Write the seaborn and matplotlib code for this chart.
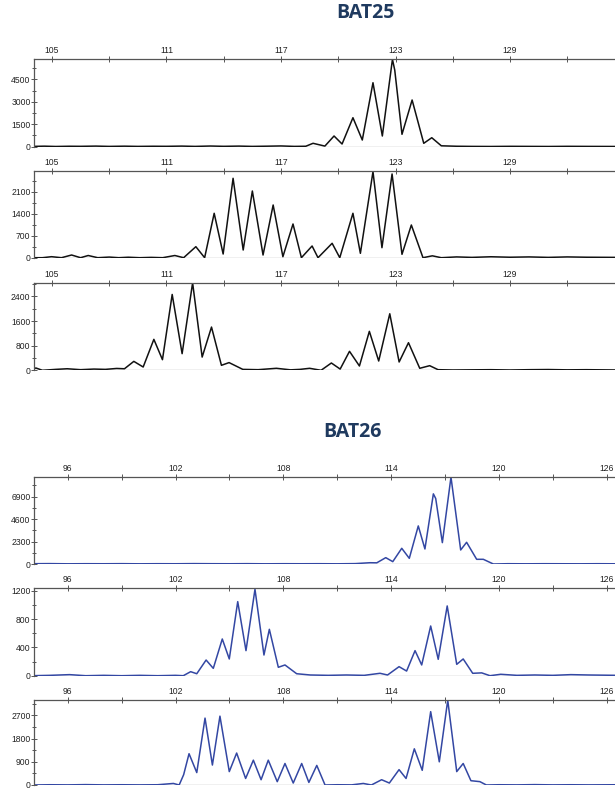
import matplotlib
matplotlib.use("Agg")
import matplotlib.pyplot as plt
import seaborn as sns
import pandas as pd
from matplotlib.ticker import MultipleLocator

sns.set_style("white")
plt.rcParams['font.family'] = ['Liberation Sans', 'DejaVu Sans']

# ---------------- data ----------------
# BAT25 (black traces), size in bp vs RFU
bat25_1_x = [104.0, 104.6, 105.2, 105.9, 106.5, 107.3, 108.0, 108.8, 109.5, 110.3, 111.0, 111.8,
             112.5, 113.3, 114.0, 114.8, 115.5, 116.3, 117.0, 117.7, 118.3, 118.68, 119.3, 119.78,
             120.2, 120.77, 121.26, 121.82, 122.31, 122.84, 122.96, 123.34, 123.87, 124.48, 124.9,
             125.4, 126.2, 127.0, 128.0, 129.0, 130.0, 131.0, 132.0, 133.0, 134.6]
bat25_1_y = [20, 35, 15, 30, 25, 40, 20, 35, 20, 30, 25, 40, 20, 45, 25, 40, 20, 35, 50, 20, 30, 227,
             40, 715, 180, 1937, 447, 4275, 715, 5838, 5120, 828, 3120, 227, 600, 60, 30, 20, 15, 25,
             20, 15, 25, 20, 15]

bat25_2_x = [104.0, 104.5, 104.98, 105.5, 106.03, 106.5, 106.9, 107.4, 108.0, 108.5, 109.0, 109.6,
             110.2, 110.8, 111.44, 111.9, 112.54, 113.0, 113.5, 113.97, 114.49, 115.02, 115.5, 116.06,
             116.59, 117.1, 117.63, 118.07, 118.63, 118.94, 119.68, 120.08, 120.77, 121.16, 121.82,
             122.29, 122.82, 123.34, 123.83, 124.44, 124.93, 125.4, 126.2, 127.0, 128.0, 129.0, 130.0,
             131.0, 132.0, 133.0, 134.6]
bat25_2_y = [0, 0, 32, 0, 86, 0, 70, 0, 20, 0, 15, 0, 10, 0, 70, 0, 352, 0, 1419, 118, 2537, 246,
             2131, 86, 1684, 32, 1077, 0, 374, 0, 460, 0, 1419, 140, 2750, 320, 2675, 108, 1045, 0,
             60, 0, 25, 10, 30, 15, 25, 10, 25, 15, 10]

bat25_3_x = [104.0, 104.16, 104.5, 105.2, 105.8, 106.5, 107.2, 107.8, 108.39, 108.8, 109.29, 109.78,
             110.34, 110.79, 111.3, 111.82, 112.37, 112.87, 113.36, 113.88, 114.28, 115.0, 115.8,
             116.76, 117.5, 118.0, 118.5, 119.1, 119.64, 120.1, 120.59, 121.11, 121.63, 122.12,
             122.7, 123.19, 123.68, 124.27, 124.79, 125.23, 126.0, 127.0, 128.0, 129.0, 130.0,
             131.0, 132.0, 133.0, 134.6]
bat25_3_y = [40, 75, 0, 30, 50, 20, 40, 30, 60, 50, 290, 107, 1005, 345, 2463, 540, 2841, 430, 1404,
             162, 250, 30, 20, 65, 15, 30, 65, 0, 237, 40, 616, 140, 1265, 302, 1836, 270, 896, 65,
             150, 20, 10, 15, 20, 10, 20, 25, 15, 20, 10]

# BAT26 (blue traces)
bat26_1_x = [94.0, 95.0, 96.0, 97.0, 98.0, 99.0, 100.0, 101.0, 102.0, 103.0, 104.0, 105.0, 106.0,
             107.0, 108.0, 109.0, 110.0, 111.0, 112.0, 112.82, 113.2, 113.7, 114.09, 114.59,
             115.01, 115.51, 115.88, 116.35, 116.48, 116.85, 117.33, 117.87, 118.2, 118.76, 119.13,
             119.69, 120.5, 121.5, 122.5, 123.5, 124.5, 125.5, 126.6]
bat26_1_y = [30, 40, 20, 30, 25, 35, 20, 30, 25, 40, 30, 25, 35, 20, 30, 25, 30, 20, 40, 130, 120,
             650, 240, 1605, 580, 3895, 1537, 7175, 6700, 2185, 8890, 1435, 2220, 480, 480, 0, 30,
             20, 30, 25, 20, 30, 20]

bat26_2_x = [94.0, 95.0, 96.1, 97.0, 98.0, 99.0, 100.0, 101.0, 102.0, 102.43, 102.84, 103.18, 103.7,
             104.1, 104.6, 104.99, 105.46, 105.92, 106.42, 106.92, 107.22, 107.72, 108.09, 108.74,
             109.5, 110.5, 111.5, 112.5, 113.38, 113.8, 114.44, 114.86, 115.33, 115.7, 116.2, 116.62,
             117.12, 117.65, 118.01, 118.54, 119.04, 119.5, 120.1, 121.0, 122.0, 123.0, 124.0,
             125.0, 126.6]
bat26_2_y = [0, 5, 15, 0, 5, 0, 5, 0, 5, 0, 57, 28, 222, 104, 520, 237, 1049, 355, 1224, 293, 657,
             119, 152, 28, 10, 5, 10, 5, 34, 10, 128, 66, 355, 152, 704, 232, 988, 161, 237, 34, 40,
             0, 20, 5, 10, 5, 15, 10, 5]

bat26_3_x = [94.0, 95.0, 96.0, 97.0, 98.0, 99.0, 100.0, 101.0, 101.88, 102.2, 102.45, 102.75, 103.18,
             103.64, 104.05, 104.47, 104.99, 105.4, 105.9, 106.33, 106.76, 107.16, 107.66, 108.09,
             108.55, 109.02, 109.42, 109.86, 110.32, 111.0, 111.8, 112.45, 112.9, 113.47, 113.9,
             114.44, 114.83, 115.29, 115.73, 116.2, 116.68, 117.15, 117.65, 118.01, 118.44, 118.94,
             119.3, 120.0, 121.0, 122.0, 123.0, 124.0, 125.0, 126.6]
bat26_3_y = [0, 10, 5, 15, 5, 10, 5, 10, 60, 0, 400, 1215, 482, 2597, 775, 2673, 520, 1241, 254, 964,
             205, 964, 129, 835, 76, 835, 100, 760, 0, 10, 5, 60, 0, 205, 76, 596, 254, 1405, 570,
             2848, 900, 3292, 520, 835, 167, 130, 0, 10, 5, 15, 5, 10, 5, 10]

bat25_ticks = [105, 111, 117, 123, 129]
bat26_ticks = [96, 102, 108, 114, 120, 126]

# ---------------- layout ----------------
W, H = 615, 789
fig = plt.figure(figsize=(W / 100, H / 100), dpi=100)

panels = [
    # (x, y, color, top_px, bottom_px, xlim, ymax, ymajor, yminor, xticks)
    (bat25_1_x, bat25_1_y, "#111111", 58.7, 146.7, (104.06, 134.5), 5880, 1500, 750, bat25_ticks),
    (bat25_2_x, bat25_2_y, "#111111", 170.7, 257.7, (104.06, 134.5), 2780, 700, 350, bat25_ticks),
    (bat25_3_x, bat25_3_y, "#111111", 282.7, 370.3, (104.06, 134.5), 2845, 800, 400, bat25_ticks),
    (bat26_1_x, bat26_1_y, "#3347a3", 476.7, 564.0, (94.12, 126.46), 8930, 2300, 1150, bat26_ticks),
    (bat26_2_x, bat26_2_y, "#3347a3", 588.3, 675.7, (94.12, 126.46), 1238, 400, 200, bat26_ticks),
    (bat26_3_x, bat26_3_y, "#3347a3", 700.0, 785.0, (94.12, 126.46), 3300, 900, 450, bat26_ticks),
]

left_px = 34
for xs, ys, col, top, bot, xlim, ymax, ymaj, ymin, xt in panels:
    ax = fig.add_axes([left_px / W, 1 - bot / H, (W - left_px) / W, (bot - top) / H])
    df = pd.DataFrame({"size": xs, "rfu": ys})
    sns.lineplot(data=df, x="size", y="rfu", ax=ax, color=col, linewidth=1.1, sort=False)
    ax.set_xlim(*xlim)
    ax.set_ylim(0, ymax)
    ax.set_xlabel("")
    ax.set_ylabel("")
    ax.xaxis.tick_top()
    ax.set_xticks(xt)
    ax.set_xticklabels([str(t) for t in xt])
    ax.xaxis.set_minor_locator(MultipleLocator(3))
    ax.yaxis.set_major_locator(MultipleLocator(ymaj))
    ax.yaxis.set_minor_locator(MultipleLocator(ymin))
    ax.yaxis.set_ticks_position("left")
    for s in ["right", "bottom"]:
        ax.spines[s].set_visible(False)
    for s in ["top", "left"]:
        ax.spines[s].set_color("#555555")
        ax.spines[s].set_linewidth(0.9)
    ax.axhline(0, color="#888888", lw=0.9, zorder=0)
    ax.tick_params(axis="x", which="major", direction="inout", length=5, width=0.7,
                   colors="#555555", labelcolor="#222222", labelsize=6.2, pad=0.5,
                   top=True, bottom=False, labeltop=True, labelbottom=False)
    ax.tick_params(axis="x", which="minor", direction="inout", length=5, width=0.7,
                   colors="#555555", top=True, bottom=False)
    ax.tick_params(axis="y", which="major", direction="inout", length=4, width=0.7,
                   colors="#555555", labelcolor="#222222", labelsize=6.2, pad=0.5)
    ax.tick_params(axis="y", which="minor", direction="inout", length=3, width=0.7,
                   colors="#555555")
    ax.set_facecolor("white")
    ax.patch.set_alpha(0)

fig.text(365 / W, 1 - 13 / H, "BAT25", ha="center", va="center", fontsize=14,
         fontweight="bold", color="#1f3a5f", family=["Open Sans", "DejaVu Sans"])
fig.text(352 / W, 1 - 432 / H, "BAT26", ha="center", va="center", fontsize=14,
         fontweight="bold", color="#1f3a5f", family=["Open Sans", "DejaVu Sans"])

fig.savefig("out.png", dpi=100, facecolor="white")
